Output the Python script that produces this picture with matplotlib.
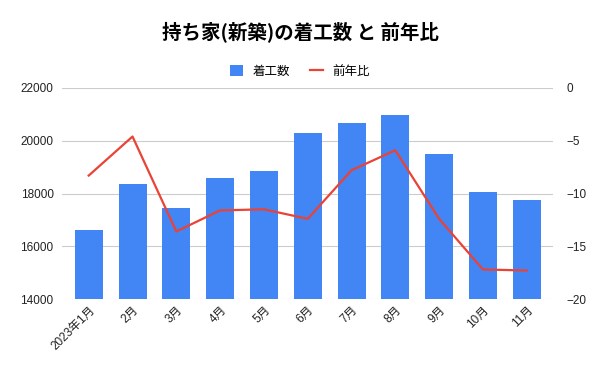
import numpy as np
import matplotlib
matplotlib.use('Agg')
import matplotlib.pyplot as plt

plt.rcParams['font.family'] = ['Liberation Sans', 'Noto Sans CJK JP', 'DejaVu Sans']

# データ
months = ['2023年1月', '2月', '3月', '4月', '5月', '6月', '7月', '8月', '9月', '10月', '11月']
starts = [16600, 18360, 17450, 18580, 18850, 20280, 20670, 20980, 19500, 18050, 17750]
yoy = [-8.3, -4.6, -13.6, -11.6, -11.5, -12.4, -7.8, -5.9, -12.4, -17.2, -17.3]

blue = '#4285F4'
red = '#EA4335'

fig = plt.figure(figsize=(6, 3.71), dpi=100)
ax = fig.add_axes([62/600, 1 - 299/371, (553-62)/600, (299-88)/371])
x = np.arange(len(months))

ax.bar(x, starts, width=0.64, color=blue, label='着工数', zorder=2)
ax.set_ylim(14000, 22000)
ax.set_yticks(np.arange(14000, 22001, 2000))
ax.set_xlim(-0.61, len(months) - 1 + 0.6)
ax.grid(axis='y', color='#cccccc', linewidth=0.8, zorder=0)
ax.set_axisbelow(True)
for s in ax.spines.values():
    s.set_visible(False)
ax.tick_params(axis='both', length=0, labelsize=8.5, colors='#222222')
ax.tick_params(axis='y', pad=6)
ax.set_xticks(x)
ax.set_xticklabels(months, rotation=45, ha='right', rotation_mode='anchor')

ax2 = ax.twinx()
ax2.plot(x, yoy, color=red, linewidth=1.6, label='前年比', zorder=3)
ax2.set_ylim(-20, 0)
ax2.set_yticks(np.arange(-20, 1, 5))
for s in ax2.spines.values():
    s.set_visible(False)
ax2.tick_params(axis='y', length=0, labelsize=8.5, colors='#222222', pad=10)

fig.suptitle('持ち家(新築)の着工数 と 前年比', y=1 - 32/371, va='center',
             fontsize=14, fontweight='bold', family=['Noto Sans CJK JP'])

h1, l1 = ax.get_legend_handles_labels()
h2, l2 = ax2.get_legend_handles_labels()
fig.legend(h1 + h2, l1 + l2, loc='center', bbox_to_anchor=(0.5, 1 - 71/371), ncol=2,
           frameon=False, handlelength=1.0, handleheight=1.0, handletextpad=0.8,
           columnspacing=1.6, prop={'family': ['Noto Sans CJK JP'], 'size': 9})

fig.savefig('out.png', dpi=100)
